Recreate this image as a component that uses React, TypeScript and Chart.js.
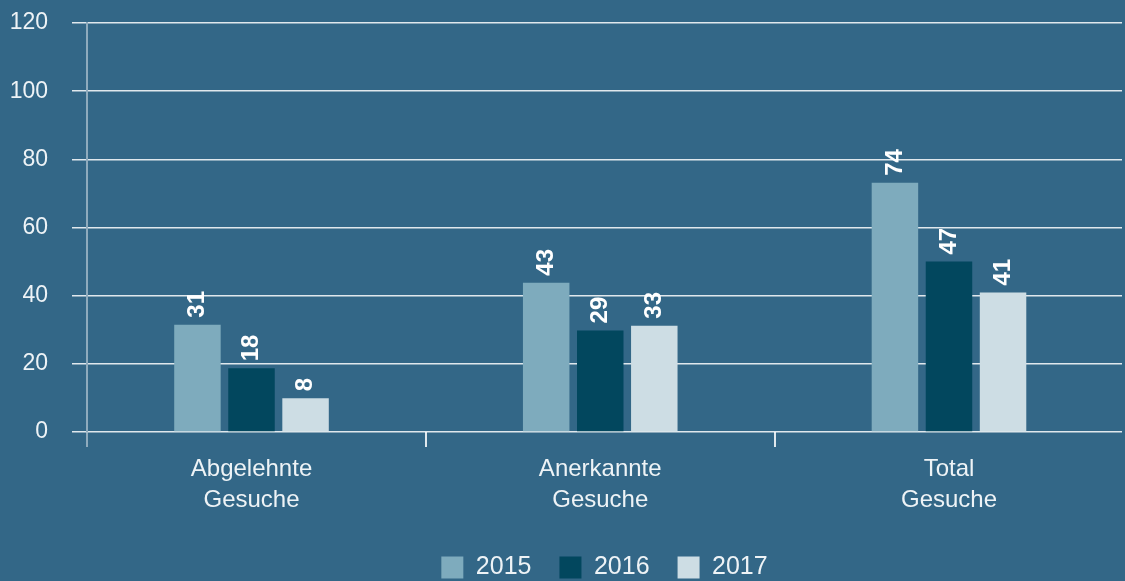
import React, { useEffect, useRef } from "react";
import { Chart, registerables } from "chart.js";

Chart.register(...registerables);

const categories = [
  ["Abgelehnte", "Gesuche"],
  ["Anerkannte", "Gesuche"],
  ["Total", "Gesuche"],
];
const years = ["2015", "2016", "2017"];
const values2015 = [31.5, 43.8, 73.1];
const values2016 = [18.7, 29.8, 50.0];
const values2017 = [9.9, 31.2, 40.9];
const labels2015 = ["31", "43", "74"];
const labels2016 = ["18", "29", "47"];
const labels2017 = ["8", "33", "41"];
const yTicks = [0, 20, 40, 60, 80, 100, 120];

const BG = "#336787";
const COLORS = ["#7eabbd", "#02475e", "#cddde4"];
const TEXT = "#eef3f6";
const AXIS = "rgba(255,255,255,0.45)";
const FONT = '"Liberation Sans", Arial, sans-serif';

const barLabels = [labels2015, labels2016, labels2017];

const bgPlugin = {
  id: "bgFill",
  beforeDraw(chart: any) {
    const c = chart.ctx;
    c.save();
    c.fillStyle = BG;
    c.fillRect(0, 0, chart.width, chart.height);
    c.restore();
  },
};

// centre the legend on the plot area; widen the category spacing slightly
const layoutTweakPlugin = {
  id: "layoutTweak",
  afterLayout(chart: any) {
    const lg = chart.legend;
    if (lg && chart.chartArea) {
      lg.left = chart.chartArea.left;
      lg.right = chart.chartArea.right;
    }
    const x = chart.scales.x;
    if (x) {
      x._startValue = -0.4717;
      x._valueRange = 2.9678;
    }
  },
  beforeDatasetsDraw(chart: any) {
    const c = chart.ctx;
    const a = chart.chartArea;
    c.save();
    c.strokeStyle = AXIS;
    c.lineWidth = 2;
    c.beginPath();
    c.moveTo(a.left, a.bottom);
    c.lineTo(a.left, a.bottom + 15);
    c.stroke();
    c.restore();
  },
};

const barLabelPlugin = {
  id: "barLabels",
  afterDatasetsDraw(chart: any) {
    const c = chart.ctx;
    chart.data.datasets.forEach((_ds: any, di: number) => {
      const meta = chart.getDatasetMeta(di);
      meta.data.forEach((bar: any, i: number) => {
        const text = barLabels[di][i];
        c.save();
        c.translate(bar.x, bar.y - 7);
        c.rotate(-Math.PI / 2);
        c.font = `bold 24px ${FONT}`;
        c.fillStyle = "#ffffff";
        c.textAlign = "left";
        c.textBaseline = "middle";
        c.fillText(text, 0, 0);
        c.restore();
      });
    });
  },
};

export default function App() {
  const ref = useRef<HTMLCanvasElement | null>(null);

  useEffect(() => {
    document.body.style.margin = "0";
    document.body.style.background = BG;
    const canvas = ref.current;
    if (!canvas) return;
    const chart = new Chart(canvas, {
      type: "bar",
      data: {
        labels: categories,
        datasets: [
          { label: years[0], data: values2015, backgroundColor: COLORS[0] },
          { label: years[1], data: values2016, backgroundColor: COLORS[1] },
          { label: years[2], data: values2017, backgroundColor: COLORS[2] },
        ],
      },
      options: {
        animation: false,
        responsive: true,
        maintainAspectRatio: false,
        devicePixelRatio: 1,
        datasets: {
          bar: { categoryPercentage: 0.465, barPercentage: 0.86, borderWidth: 0 },
        },
        layout: { padding: { top: 23, right: 3, left: 0, bottom: 0 } },
        plugins: {
          legend: {
            position: "bottom",
            labels: {
              boxWidth: 22,
              boxHeight: 22,
              padding: 28,
              color: TEXT,
              font: { family: FONT, size: 25 },
            },
          },
          tooltip: { enabled: false },
        },
        scales: {
          x: {
            offset: true,
            grid: {
              offset: true,
              drawOnChartArea: false,
              drawTicks: true,
              tickLength: 15,
              lineWidth: 2,
              color: (ctx: any) =>
                ctx.type !== "tick" ? "rgba(0,0,0,0)" : "rgba(255,255,255,0.85)",
            },
            border: { display: false },
            ticks: {
              color: TEXT,
              font: { family: FONT, size: 24, lineHeight: 1.3 },
              padding: 7,
              maxRotation: 0,
              autoSkip: false,
            },
            afterFit: (scale: any) => {
              scale.height = 95;
            },
          },
          y: {
            min: 0,
            max: 120,
            afterBuildTicks: (scale: any) => {
              scale.ticks = yTicks.map((v) => ({ value: v }));
            },
            grid: {
              color: "rgba(255,255,255,0.85)",
              lineWidth: 1.5,
              tickLength: 15,
              drawTicks: true,
            },
            border: { display: true, color: AXIS, width: 2 },
            ticks: {
              color: TEXT,
              font: { family: FONT, size: 23 },
              padding: 24,
            },
            afterFit: (scale: any) => {
              scale.width = 87;
              scale.paddingTop = 0;
              scale.paddingBottom = 0;
            },
          },
        },
      },
      plugins: [bgPlugin, layoutTweakPlugin, barLabelPlugin],
    });
    return () => chart.destroy();
  }, []);

  return (
    <div
      style={{
        position: "absolute",
        left: 0,
        top: 0,
        width: 1125,
        height: 581,
        overflow: "hidden",
        background: BG,
      }}
    >
      <div style={{ position: "relative", width: 1125, height: 590 }}>
        <canvas ref={ref} />
      </div>
    </div>
  );
}
